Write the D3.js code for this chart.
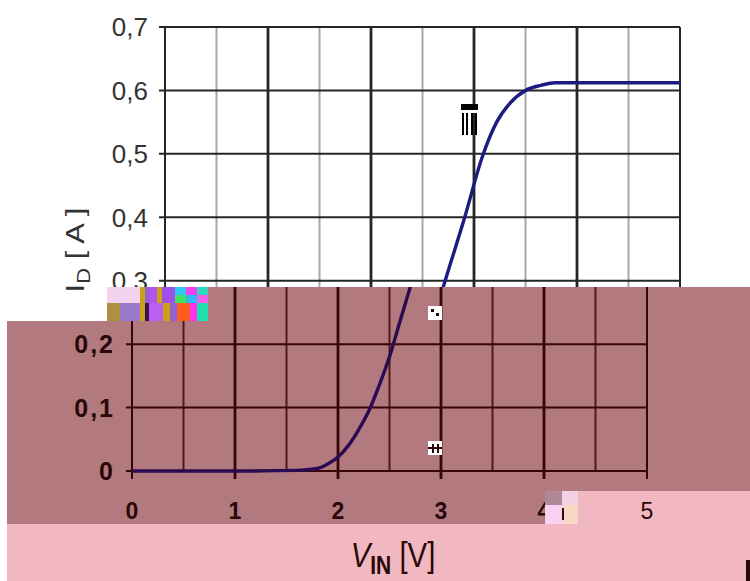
<!DOCTYPE html>
<html>
<head>
<meta charset="utf-8">
<script src="https://d3js.org/d3.v7.min.js"></script>
<style>
body { margin: 0; background: #fff; }
text { font-family: Arial, "Liberation Sans", sans-serif; }
</style>
</head>
<body>
<div id="plot"></div>
<script>
// transfer curve I_D vs V_IN
var voltage = [0, 1.0, 1.6, 1.8, 1.9, 2.0, 2.1, 2.2, 2.3, 2.4, 2.5, 2.6, 2.72, 2.91, 3.08, 3.22, 3.35, 3.5, 3.65, 3.79, 4.5, 5.0];
var current = [0, 0, 0.001, 0.004, 0.011, 0.022, 0.04, 0.065, 0.095, 0.135, 0.18, 0.235, 0.3, 0.4, 0.495, 0.55, 0.58, 0.6, 0.608, 0.612, 0.612, 0.612];
var xTicks = [0, 1, 2, 3, 4, 5];
var xMinor = [0.5, 1.5, 2.5, 3.5, 4.5];
var yTicks = [0, 0.1, 0.2, 0.3, 0.4, 0.5, 0.6, 0.7];
var yTickLabels = ["0", "0,1", "0,2", "0,3", "0,4", "0,5", "0,6", "0,7"];

var width = 750, height = 581;
var svg = d3.select("#plot").append("svg").attr("width", width).attr("height", height);

var x = d3.scaleLinear().domain([0, 5]).range([165, 680]);
var y = d3.scaleLinear().domain([0, 0.7]).range([471, 27]);

var points = voltage.map(function (v, i) { return { v: v, i: current[i] }; });

// regions of the picture (the lower part is a shifted, tinted copy)
var defs = svg.append("defs");
defs.append("clipPath").attr("id", "clipTop").append("path")
  .attr("d", "M0,0H750V287H107V321H0Z");
defs.append("clipPath").attr("id", "clipLow").append("path")
  .attr("d", "M107,287H750V581H7V321H107Z");

svg.append("rect").attr("width", width).attr("height", height).attr("fill", "#fff");
svg.append("path").attr("d", "M107,287H750V491H545V524H7V321H107Z").attr("fill", "#b27a7f");
svg.append("path").attr("d", "M545,491H750V581H7V524H545Z").attr("fill", "#f1b8c1");

var topStyle = { major: "#262626", minor: "#a8a8a8", curve: "#1b1b80", text: "#333", bold: "normal", yFont: 26, spacing: 0, xTitle: false };
var lowStyle = { major: "#360505", minor: "#521818", curve: "#2b0a52", text: "#2a0808", bold: "bold", yFont: 25, spacing: 2, xTitle: true };

function drawChart(clip, dx, st) {
  var g = svg.append("g").attr("clip-path", "url(#" + clip + ")")
    .append("g").attr("transform", "translate(" + dx + ",0)");

  g.selectAll("line.minor").data(xMinor).enter().append("line")
    .attr("x1", function (d) { return x(d); }).attr("x2", function (d) { return x(d); })
    .attr("y1", y(0.7)).attr("y2", y(0))
    .attr("stroke", st.minor).attr("stroke-width", 2);

  g.selectAll("line.hgrid").data(yTicks).enter().append("line")
    .attr("x1", x(0) - 6).attr("x2", x(5))
    .attr("y1", function (d) { return y(d); }).attr("y2", function (d) { return y(d); })
    .attr("stroke", st.major).attr("stroke-width", 2);

  g.selectAll("line.vgrid").data(xTicks).enter().append("line")
    .attr("x1", function (d) { return x(d); }).attr("x2", function (d) { return x(d); })
    .attr("y1", y(0.7)).attr("y2", y(0) + 8)
    .attr("stroke", st.major).attr("stroke-width", function (d) { return d == 0 || d == 5 ? 2 : 2.8; });

  var line = d3.line()
    .x(function (d) { return x(d.v); })
    .y(function (d) { return y(d.i); })
    .curve(d3.curveMonotoneX);
  g.append("path").datum(points).attr("d", line)
    .attr("fill", "none").attr("stroke", st.curve).attr("stroke-width", 3.4);

  g.selectAll("text.ytick").data(yTicks).enter().append("text")
    .attr("x", x(0) - 17).attr("y", function (d) { return y(d); })
    .attr("dy", "0.36em").attr("text-anchor", "end")
    .attr("font-size", st.yFont).attr("font-weight", st.bold)
    .attr("letter-spacing", st.spacing).attr("fill", st.text)
    .text(function (d, i) { return yTickLabels[i]; });

  g.selectAll("text.xtick").data(xTicks).enter().append("text")
    .attr("x", function (d) { return x(d); }).attr("y", 519)
    .attr("text-anchor", "middle").attr("font-size", 23)
    .attr("font-weight", function (d) { return d == 5 ? "normal" : "bold"; })
    .attr("fill", st.text)
    .text(function (d) { return d; });

  if (st.xTitle) {
    var xl = g.append("text")
      .attr("transform", "translate(426,567) scale(0.84,1)")
      .attr("text-anchor", "middle").attr("font-size", 35).attr("fill", st.text);
    xl.append("tspan").attr("font-style", "italic").text("V");
    xl.append("tspan").attr("dy", 7).attr("font-size", 25).attr("font-weight", "bold").text("IN");
    xl.append("tspan").attr("dy", -7).text(" [V]");
  }

  var yl = g.append("text")
    .attr("transform", "translate(84,250) rotate(-90) scale(1,0.85)")
    .attr("text-anchor", "middle").attr("font-size", 31).attr("fill", st.text);
  yl.append("tspan").text("I");
  yl.append("tspan").attr("dy", 7).attr("font-size", 22).text("D");
  yl.append("tspan").attr("dy", -7).text(" [ A ]");
}

drawChart("clipTop", 0, topStyle);
drawChart("clipLow", -33, lowStyle);

// compression glitches
var glitches = [
  [107, 287, 33, 16, "#f2d2ee"], [140, 287, 5, 16, "#c9a018"], [145, 287, 5, 16, "#9262d2"],
  [150, 287, 7, 16, "#b452f0"], [157, 287, 5, 16, "#c9a018"], [162, 287, 13, 16, "#a050e8"],
  [175, 287, 11, 8, "#30c8f0"], [186, 287, 11, 8, "#f040f0"], [197, 287, 11, 8, "#30d8c0"],
  [175, 295, 11, 8, "#40e060"], [186, 295, 11, 8, "#30b8f0"], [197, 295, 11, 8, "#f060e8"],
  [107, 303, 13, 18, "#b09040"], [120, 303, 20, 18, "#9a7ac8"], [140, 303, 5, 18, "#c9a018"],
  [145, 303, 4, 18, "#3a1050"], [149, 303, 14, 18, "#b860f0"], [163, 303, 7, 18, "#c9a018"],
  [170, 303, 7, 18, "#9262d2"], [177, 303, 13, 18, "#ff5a20"], [190, 303, 7, 18, "#ff30f0"],
  [197, 303, 11, 18, "#20e0b0"],
  [545, 491, 17, 14, "#b0889a"], [562, 491, 16, 14, "#f2d2e2"],
  [545, 505, 17, 19, "#f8d0f2"], [562, 505, 16, 19, "#f8d8c2"], [562, 508, 2, 12, "#3a0a0a"],
  [461, 104, 17, 6, "#000"], [463, 110, 13, 3, "#fff"],
  [462, 113, 2, 22, "#000"], [466, 113, 2, 22, "#000"], [471, 113, 2, 22, "#000"], [475, 113, 2, 22, "#000"],
  [428, 306, 14, 14, "#fff"], [431, 309, 3, 3, "#2a0808"], [436, 313, 3, 3, "#2a0808"],
  [428, 441, 14, 14, "#fff"], [432, 444, 2, 9, "#2a0808"], [437, 444, 2, 9, "#2a0808"], [428, 447, 14, 2, "#2a0808"],
  [746, 560, 4, 21, "#2a0808"]
];
svg.selectAll("rect.glitch").data(glitches).enter().append("rect")
  .attr("x", function (d) { return d[0]; }).attr("y", function (d) { return d[1]; })
  .attr("width", function (d) { return d[2]; }).attr("height", function (d) { return d[3]; })
  .attr("fill", function (d) { return d[4]; });
</script>
</body>
</html>
